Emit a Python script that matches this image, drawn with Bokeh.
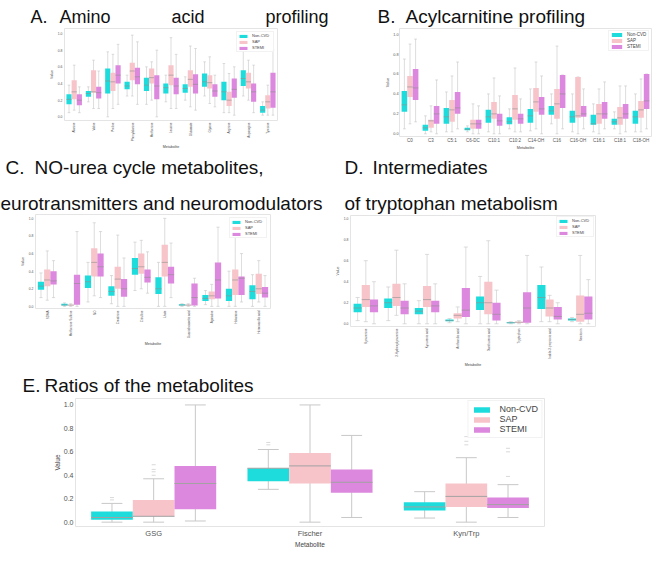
import math
from bokeh.plotting import figure
from bokeh.models import FactorRange, Range1d, ColumnDataSource, FixedTicker, PrintfTickFormatter
from bokeh.transform import dodge
from bokeh.layouts import column, row
from bokeh.core.properties import value
from bokeh.embed import file_html
from bokeh.resources import INLINE

FONT = "Liberation Sans"
GROUPS = ["Non-CVD", "SAP", "STEMI"]
COLORS = ["#1fdcdc", "#f7c4ca", "#dc88de"]
Y_TICKS = [0.0, 0.2, 0.4, 0.6, 0.8, 1.0]

# ---- Panel A: amino acids (lo, q1, median, q3, hi) ----
A_CATS = ["Alanine", "Valine", "Proline", "Phenylalanine", "Methionine", "Leucine",
          "Glutamate", "Glycine", "Arginine", "Asparagine", "Tyrosine"]
A_NONCVD = [(0.05, 0.15, 0.21, 0.27, 0.38), (0.18, 0.24, 0.28, 0.31, 0.36), (0.00, 0.28, 0.43, 0.58, 0.78),
            (0.25, 0.33, 0.37, 0.42, 0.50), (0.15, 0.31, 0.38, 0.47, 0.60), (0.18, 0.28, 0.35, 0.40, 0.50),
            (0.20, 0.29, 0.34, 0.39, 0.48), (0.25, 0.36, 0.42, 0.52, 0.66), (0.05, 0.20, 0.30, 0.42, 0.64),
            (0.25, 0.37, 0.46, 0.56, 0.81), (0.02, 0.05, 0.08, 0.13, 0.18)]
A_SAP = [(0.08, 0.21, 0.30, 0.44, 0.62), (0.10, 0.29, 0.30, 0.56, 0.68), (0.10, 0.31, 0.42, 0.53, 0.75),
         (0.25, 0.44, 0.55, 0.65, 0.98), (0.20, 0.40, 0.47, 0.58, 0.66), (0.10, 0.38, 0.50, 0.62, 0.95),
         (0.12, 0.36, 0.45, 0.56, 0.85), (0.16, 0.34, 0.41, 0.50, 0.72), (0.05, 0.13, 0.20, 0.30, 0.52),
         (0.20, 0.34, 0.42, 0.53, 0.68), (0.02, 0.10, 0.18, 0.26, 0.38)]
A_STEMI = [(0.05, 0.14, 0.20, 0.27, 0.36), (0.10, 0.22, 0.29, 0.36, 0.55), (0.15, 0.40, 0.50, 0.62, 0.87),
           (0.15, 0.39, 0.48, 0.59, 0.90), (0.00, 0.21, 0.37, 0.50, 0.80), (0.10, 0.27, 0.37, 0.47, 0.75),
           (0.08, 0.28, 0.39, 0.51, 0.82), (0.12, 0.24, 0.31, 0.39, 0.50), (0.02, 0.23, 0.33, 0.46, 0.60),
           (0.05, 0.18, 0.30, 0.40, 0.62), (0.02, 0.11, 0.30, 0.53, 0.80)]

# ---- Panel B: acylcarnitines ----
B_CATS = ["C0", "C3", "C5:1", "C6-DC", "C10:1", "C10:2", "C14-OH", "C16", "C16-OH", "C16:1", "C18:1", "C18-OH"]
B_NONCVD = [(0.05, 0.22, 0.29, 0.43, 0.75), (0.00, 0.03, 0.06, 0.09, 0.18), (0.02, 0.10, 0.17, 0.26, 0.42),
            (0.02, 0.035, 0.045, 0.06, 0.08), (0.02, 0.11, 0.17, 0.24, 0.40), (0.05, 0.095, 0.12, 0.167, 0.25),
            (0.03, 0.11, 0.18, 0.25, 0.45), (0.10, 0.19, 0.23, 0.28, 0.40), (0.02, 0.11, 0.17, 0.23, 0.40),
            (0.02, 0.09, 0.10, 0.19, 0.30), (0.05, 0.09, 0.12, 0.15, 0.22), (0.02, 0.10, 0.17, 0.23, 0.40)]
B_SAP = [(0.10, 0.37, 0.47, 0.58, 0.90), (0.02, 0.06, 0.13, 0.14, 0.28), (0.02, 0.12, 0.24, 0.34, 0.58),
         (0.00, 0.05, 0.10, 0.14, 0.30), (0.00, 0.15, 0.20, 0.32, 0.56), (0.02, 0.14, 0.25, 0.39, 0.66),
         (0.05, 0.22, 0.32, 0.46, 0.72), (0.00, 0.15, 0.30, 0.45, 0.88), (0.00, 0.16, 0.18, 0.57, 0.57),
         (0.00, 0.10, 0.20, 0.30, 0.45), (0.00, 0.09, 0.16, 0.27, 0.48), (0.02, 0.16, 0.24, 0.33, 0.55)]
B_STEMI = [(0.12, 0.34, 0.46, 0.65, 0.95), (0.00, 0.10, 0.20, 0.28, 0.54), (0.05, 0.20, 0.26, 0.42, 0.72),
           (0.00, 0.05, 0.10, 0.14, 0.28), (0.00, 0.08, 0.13, 0.20, 0.38), (0.02, 0.10, 0.15, 0.20, 0.35),
           (0.00, 0.19, 0.25, 0.37, 0.58), (0.05, 0.26, 0.40, 0.59, 0.59), (0.05, 0.17, 0.20, 0.28, 0.45),
           (0.05, 0.15, 0.20, 0.32, 0.52), (0.02, 0.15, 0.20, 0.30, 0.48), (0.05, 0.25, 0.33, 0.60, 0.60)]

# ---- Panel C: NO-urea cycle metabolites, neurotransmitters and neuromodulators ----
C_CATS = ["SDMA", "Methionine Sulfone", "NO", "Creatinine", "Citrulline", "Urate",
          "Guanidinoacetic acid", "Agmatine", "Histamine", "Homovanillic acid"]
C_NONCVD = [(0.10, 0.19, 0.23, 0.28, 0.38), (0.00, 0.01, 0.015, 0.03, 0.04), (0.05, 0.21, 0.28, 0.35, 0.50),
            (0.03, 0.12, 0.17, 0.23, 0.35), (0.18, 0.36, 0.43, 0.55, 0.73), (0.00, 0.14, 0.20, 0.33, 0.50),
            (0.00, 0.01, 0.015, 0.025, 0.03), (0.02, 0.06, 0.09, 0.13, 0.18), (0.00, 0.06, 0.12, 0.20, 0.40),
            (0.00, 0.08, 0.17, 0.24, 0.36)]
C_SAP = [(0.07, 0.23, 0.30, 0.42, 0.63), (0.00, 0.01, 0.015, 0.02, 0.03), (0.12, 0.34, 0.50, 0.66, 0.95),
         (0.00, 0.20, 0.31, 0.45, 0.81), (0.20, 0.37, 0.45, 0.60, 0.75), (0.00, 0.34, 0.50, 0.70, 1.00),
         (0.00, 0.01, 0.015, 0.02, 0.03), (0.00, 0.08, 0.12, 0.17, 0.25), (0.00, 0.13, 0.30, 0.42, 0.82),
         (0.05, 0.14, 0.20, 0.37, 0.52)]
C_STEMI = [(0.10, 0.25, 0.29, 0.40, 0.52), (0.00, 0.02, 0.26, 0.36, 0.85), (0.10, 0.34, 0.45, 0.60, 0.85),
           (0.00, 0.11, 0.20, 0.31, 0.55), (0.15, 0.27, 0.33, 0.42, 0.62), (0.10, 0.26, 0.36, 0.45, 0.72),
           (0.00, 0.01, 0.10, 0.26, 0.32), (0.00, 0.09, 0.30, 0.50, 0.90), (0.05, 0.13, 0.32, 0.34, 0.60),
           (0.00, 0.10, 0.15, 0.22, 0.35)]

# ---- Panel D: intermediates of tryptophan metabolism ----
D_CATS = ["Kynurenine", "3-Hydroxykynurenine", "Kynurenic acid", "Anthranilic acid",
          "Xanthurenic acid", "Tryptophan", "Indole-3-propionic acid", "Serotonin"]
D_NONCVD = [(0.03, 0.11, 0.15, 0.19, 0.25), (0.03, 0.15, 0.20, 0.24, 0.35), (0.00, 0.09, 0.12, 0.15, 0.22),
            (0.01, 0.025, 0.03, 0.04, 0.05), (0.00, 0.13, 0.20, 0.26, 0.45), (0.00, 0.005, 0.01, 0.015, 0.02),
            (0.02, 0.14, 0.25, 0.37, 0.54), (0.02, 0.03, 0.04, 0.05, 0.06)]
D_SAP = [(0.02, 0.16, 0.23, 0.37, 0.60), (0.08, 0.17, 0.25, 0.38, 0.70), (0.00, 0.16, 0.23, 0.36, 0.66),
         (0.02, 0.05, 0.08, 0.10, 0.16), (0.00, 0.09, 0.20, 0.40, 0.79), (0.00, 0.01, 0.015, 0.02, 0.03),
         (0.02, 0.07, 0.15, 0.23, 0.27), (0.00, 0.02, 0.09, 0.27, 0.65)]
D_STEMI = [(0.00, 0.11, 0.17, 0.23, 0.40), (0.00, 0.09, 0.15, 0.22, 0.38), (0.00, 0.11, 0.17, 0.22, 0.38),
           (0.00, 0.065, 0.13, 0.34, 0.73), (0.00, 0.03, 0.09, 0.20, 0.32), (0.00, 0.01, 0.15, 0.30, 0.65),
           (0.00, 0.04, 0.07, 0.16, 0.20), (0.00, 0.04, 0.10, 0.26, 0.42)]

# ---- Panel E: ratios ----
E_CATS = ["GSG", "Fischer", "Kyn/Trp"]
E_NONCVD = [(0.00, 0.02, 0.04, 0.09, 0.16), (0.28, 0.35, 0.46, 0.46, 0.62), (0.035, 0.10, 0.13, 0.17, 0.26)]
E_SAP = [(0.00, 0.05, 0.05, 0.19, 0.37), (0.00, 0.33, 0.48, 0.59, 1.00), (0.00, 0.13, 0.22, 0.33, 0.55)]
E_STEMI = [(0.01, 0.11, 0.33, 0.48, 1.00), (0.04, 0.25, 0.34, 0.45, 0.74), (0.04, 0.12, 0.15, 0.21, 0.32)]
E_OUT_NONCVD_CAT = ["GSG", "GSG", "Fischer", "Fischer"]
E_OUT_NONCVD_VAL = [0.19, 0.21, 0.66, 0.68]
E_OUT_SAP_CAT = ["GSG", "GSG", "GSG", "GSG", "Kyn/Trp", "Kyn/Trp", "Kyn/Trp"]
E_OUT_SAP_VAL = [0.40, 0.43, 0.45, 0.49, 0.66, 0.69, 0.73]
E_OUT_STEMI_CAT = ["Kyn/Trp", "Kyn/Trp", "Kyn/Trp"]
E_OUT_STEMI_VAL = [0.39, 0.60, 0.63]

# ---- panel titles ----
TITLE_AB = ["A.", "Amino", "acid", "profiling", "B.", "Acylcarnitine profiling"]
TITLE_CD = ["C.", "NO-urea cycle metabolites,", "eurotransmitters and neuromodulators",
            "D.", "Intermediates", "of tryptophan metabolism"]
TITLE_E = ["E.", "Ratios of the metabolites"]


def panel(cats, stats, width, height, borders, yr, cfg, outliers=None):
    bl, br, bt, bb = borders
    p = figure(x_range=FactorRange(factors=cats), y_range=Range1d(*yr), width=width, height=height,
               output_backend="svg", toolbar_location=None, frame_align=False, title=None,
               min_border_left=bl, min_border_right=br, min_border_top=bt, min_border_bottom=bb)
    p.background_fill_color = "white"
    p.border_fill_color = "white"
    p.xgrid.visible = False
    p.ygrid.visible = False
    p.outline_line_color = "#e4e4e4"
    bw = 0.8 / 3
    offs = [-bw, 0.0, bw]
    for gi, (g, st, col, off) in enumerate(zip(GROUPS, stats, COLORS, offs)):
        lo, q1, md, q3, hi = (list(t) for t in zip(*st))
        src = ColumnDataSource(dict(cat=cats, lo=lo, q1=q1, md=md, q3=q3, hi=hi))
        xc = dodge("cat", off, range=p.x_range)
        xl = dodge("cat", off - bw / 4, range=p.x_range)
        xr = dodge("cat", off + bw / 4, range=p.x_range)
        p.segment(x0=xc, y0="lo", x1=xc, y1="hi", source=src,
                  line_color=cfg["wcol"], line_width=cfg["lw"])
        p.segment(x0=xl, y0="lo", x1=xr, y1="lo", source=src,
                  line_color=cfg["wcol"], line_width=cfg["lw"])
        p.segment(x0=xl, y0="hi", x1=xr, y1="hi", source=src,
                  line_color=cfg["wcol"], line_width=cfg["lw"])
        p.vbar(x=xc, width=bw, bottom="q1", top="q3", source=src,
               fill_color=col, line_color=None, legend_label=g)
        xm0 = dodge("cat", off - bw / 2, range=p.x_range)
        xm1 = dodge("cat", off + bw / 2, range=p.x_range)
        p.segment(x0=xm0, y0="md", x1=xm1, y1="md", source=src,
                  line_color=cfg["mcol"], line_width=cfg["mlw"])
        if outliers is not None:
            oc, ov = outliers[gi]
            osrc = ColumnDataSource(dict(cat=oc, v=ov))
            p.scatter(x=dodge("cat", off, range=p.x_range), y="v", source=osrc, marker="dash",
                      size=cfg["osize"], line_color="#cfcfcf", line_width=0.8)

    p.yaxis.ticker = FixedTicker(ticks=Y_TICKS)
    p.yaxis.formatter = PrintfTickFormatter(format="%.1f")
    for ax in (p.xaxis[0], p.yaxis[0]):
        ax.axis_line_color = None
        ax.major_tick_line_color = None
        ax.minor_tick_line_color = None
        ax.major_tick_out = 0
        ax.major_tick_in = 0
        ax.minor_tick_out = 0
        ax.minor_tick_in = 0
        ax.major_label_text_font = FONT
        ax.major_label_text_color = "#555555"
        ax.axis_label_text_font = FONT
        ax.axis_label_text_font_style = "normal"
        ax.axis_label_text_color = "#444444"
        ax.axis_label_text_font_size = cfg["fs_axis"]
        ax.major_label_standoff = cfg["standoff"]
        ax.axis_label_standoff = cfg["lab_standoff"]
    p.xaxis.major_label_text_font_size = cfg["fs_x"]
    p.yaxis.major_label_text_font_size = cfg["fs_y"]
    if cfg["rot"]:
        p.xaxis.major_label_orientation = math.pi / 2
    p.xaxis.axis_label = "Metabolite"
    p.yaxis.axis_label = "Value"

    lg = p.legend[0]
    lg.location = "top_right"
    lg.label_text_font = FONT
    lg.label_text_font_size = cfg["fs_leg"]
    lg.label_text_color = "#444444"
    lg.glyph_width = cfg["gw"]
    lg.glyph_height = cfg["gh"]
    lg.label_height = cfg["gh"]
    lg.label_standoff = cfg["lstand"]
    lg.spacing = cfg["lspacing"]
    lg.padding = cfg["lpad"]
    lg.margin = cfg["lmargin"]
    lg.border_line_color = "#e6e6e6"
    lg.background_fill_color = "white"
    lg.background_fill_alpha = 0.9
    return p


def strip(width, height, texts, xs, ys, sizes):
    s = figure(width=width, height=height, x_range=Range1d(0, width), y_range=Range1d(height, 0),
               output_backend="svg", toolbar_location=None, x_axis_location=None, title=None,
               y_axis_location=None, min_border=0, min_border_left=0, min_border_right=0,
               min_border_top=0, min_border_bottom=0, frame_align=False)
    s.xgrid.visible = False
    s.ygrid.visible = False
    s.outline_line_color = None
    s.background_fill_color = "white"
    s.border_fill_color = "white"
    src = ColumnDataSource(dict(x=xs, y=ys, t=texts, fs=sizes))
    s.text(x="x", y="y", text="t", source=src, text_font=value(FONT), text_font_size="fs",
           text_baseline="alphabetic", text_align="left", text_color="#111111")
    return s


SMALL = dict(wcol="#c6c6c6", lw=0.6, mcol="#8f8f8f", mlw=0.6, fs_axis="3.6px", fs_x="3px", fs_y="3.4px",
             standoff=2, lab_standoff=1, rot=True, fs_leg="4px", gw=10, gh=4, lstand=4, lspacing=1,
             lpad=1, lmargin=3, osize=3)

# title strip for A and B (page y 8..36)
sAB = strip(653, 28, TITLE_AB, [30, 59, 171, 265, 377, 405], [16, 16, 16, 16, 16, 16],
            ["18px", "18px", "18px", "18px", "19px", "19px"])

# A and B plots (page y 36..160)
pA = panel(A_CATS, [A_NONCVD, A_SAP, A_STEMI], 332, 124, (64, 55, 0, 30), (-0.044, 1.06), SMALL)
cfgB = dict(SMALL, rot=False, fs_x="4.5px", fs_y="3.8px", fs_axis="3.8px", standoff=1, lab_standoff=0,
            fs_leg="4.5px", gw=13, gh=5, lmargin=2)
pB = panel(B_CATS, [B_NONCVD, B_SAP, B_STEMI], 321, 124, (67, 2, 0, 14), (-0.027, 1.056), cfgB)

# title strip for C and D (page y 160..222)
sCD = strip(653, 62, TITLE_CD, [5, 34, 0, 344, 372, 344], [15, 15, 51, 15, 15, 51],
            ["19px"] * 6)

# C and D plots (page y 222..378)
pC = panel(C_CATS, [C_NONCVD, C_SAP, C_STEMI], 332, 156, (35, 62, 0, 62), (-0.024, 1.044), SMALL)
cfgD = dict(SMALL, lmargin=1)
pD = panel(D_CATS, [D_NONCVD, D_SAP, D_STEMI], 321, 156, (18, 58, 1, 44), (-0.026, 1.03), cfgD)

# title strip for E (page y 378..404)
sE = strip(653, 26, TITLE_E, [22, 44], [15, 15], ["19px", "19px"])

cfgE = dict(wcol="#c8c8c8", lw=1, mcol="#a2a2a2", mlw=1, fs_axis="6.5px", fs_x="7.5px", fs_y="7px",
            standoff=2, lab_standoff=0, rot=False, fs_leg="9px", gw=20, gh=7, lstand=8, lspacing=0,
            lpad=3, lmargin=2, osize=4)
E_OUT = [(E_OUT_NONCVD_CAT, E_OUT_NONCVD_VAL), (E_OUT_SAP_CAT, E_OUT_SAP_VAL),
         (E_OUT_STEMI_CAT, E_OUT_STEMI_VAL)]
pE = panel(E_CATS, [E_NONCVD, E_SAP, E_STEMI], 653, 154, (75, 109, 2, 16), (-0.037, 1.055), cfgE, E_OUT)

layout = column(sAB, row(pA, pB), sCD, row(pC, pD), sE, pE)
open("out.html", "w").write(file_html(layout, INLINE))
